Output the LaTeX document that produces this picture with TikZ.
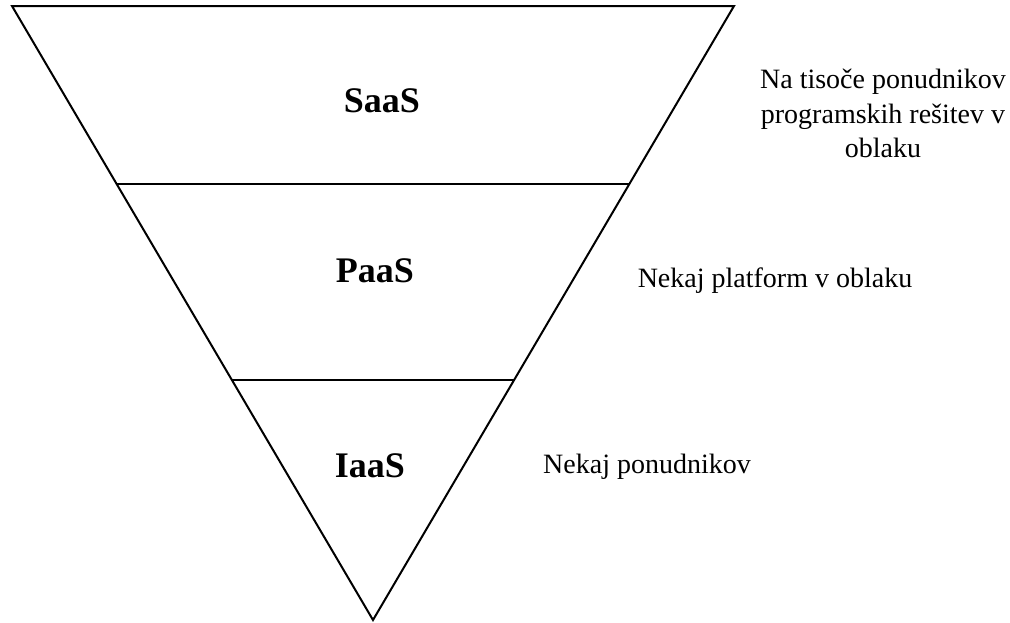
\documentclass[tikz,border=0pt]{standalone}
\usepackage{fontspec}
\setmainfont{Liberation Serif}
\usetikzlibrary{calc}
\begin{document}
\begin{tikzpicture}[x=1pt,y=-1pt,
  layer/.style={font=\fontsize{36}{42}\selectfont\bfseries, anchor=base},
  note/.style={font=\fontsize{28}{34.5}\selectfont, anchor=base, align=center},
  edge/.style={line width=2pt, line join=miter},
  divider/.style={line width=1.1pt}]
  \useasboundingbox (0,0) rectangle (1010,622);
  % inverted triangle
  \coordinate (tl) at (12,6);
  \coordinate (tr) at (734,6);
  \coordinate (bt) at (373,620);
  \draw[edge] (tl) -- (tr) -- (bt) -- cycle;
  % dividers, running from side to side
  \coordinate (d1l) at ($(tl)!0.2899!(bt)$);
  \coordinate (d1r) at ($(tr)!0.2899!(bt)$);
  \coordinate (d2l) at ($(tl)!0.6091!(bt)$);
  \coordinate (d2r) at ($(tr)!0.6091!(bt)$);
  \draw[divider] (d1l) -- (d1r);
  \draw[divider] (d2l) -- (d2r);
  % layer names
  \node[layer] (saas) at (382,112) {SaaS};
  \node[layer] (paas) at (375,282) {PaaS};
  \node[layer] (iaas) at (370,477) {IaaS};
  % notes
  \node[note] (n1) at (883,88) {Na tisoče ponudnikov};
  \node[note] (n2) at (883,123) {programskih rešitev v};
  \node[note] (n3) at (883,157.5) {oblaku};
  \node[note] (n4) at (775,287) {Nekaj platform v oblaku};
  \node[note] (n5) at (647,473) {Nekaj ponudnikov};
\end{tikzpicture}
\end{document}
